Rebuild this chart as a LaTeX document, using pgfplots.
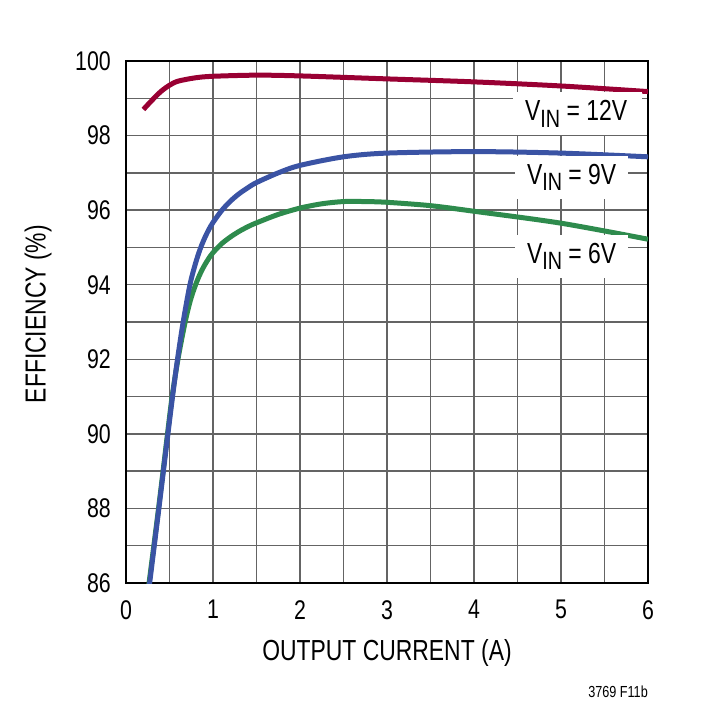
\documentclass[border=0pt]{standalone}
\usepackage{fontspec}
\setmainfont{Liberation Sans}[FakeStretch=0.79]
\usepackage{pgfplots}
\pgfplotsset{compat=1.18}
\definecolor{cRed}{RGB}{153,0,51}
\definecolor{cBlue}{RGB}{58,83,164}
\definecolor{cGreen}{RGB}{46,139,77}
\definecolor{cGrid}{RGB}{100,100,100}
\newcommand{\vin}[1]{V\raisebox{-6.5pt}{\fontsize{25pt}{25pt}\selectfont IN} = #1}
\begin{document}
\begin{tikzpicture}
\path[use as bounding box] (0pt,0pt) rectangle (725pt,710pt);
\begin{axis}[
  at={(126pt,127pt)}, anchor=south west,
  scale only axis, width=522pt, height=522pt,
  xmin=0, xmax=6, ymin=86, ymax=100,
  xtick={0,1,2,3,4,5,6}, ytick={86,88,90,92,94,96,98,100},
  minor x tick num=1, minor y tick num=1,
  grid=both,
  major grid style={cGrid, line width=1.5pt},
  minor grid style={cGrid, line width=1.5pt},
  major tick length=0pt, minor tick length=0pt,
  axis line style={black, line width=2.5pt},
  /pgf/number format/assume math mode=true,
  xticklabel style={font=\fontsize{27pt}{27pt}\selectfont, inner sep=0pt, anchor=north, yshift=-17pt},
  yticklabel style={font=\fontsize{27pt}{27pt}\selectfont, inner sep=0pt, anchor=east, xshift=-15pt},
  xlabel={OUTPUT CURRENT (A)},
  ylabel={EFFICIENCY (\%)},
  xlabel style={font=\fontsize{29pt}{29pt}\selectfont, at={(axis description cs:0.5,0)}, anchor=center, yshift=-70pt},
  ylabel style={font=\fontsize{29pt}{29pt}\selectfont, at={(axis description cs:0,0.515)}, anchor=center, xshift=0pt, yshift=88pt},
  clip=true,
]
\addplot[cRed, line width=5pt, smooth, tension=0.5] coordinates {
 (0.2,98.70) (0.3,98.95) (0.4,99.18) (0.5,99.35) (0.6,99.46) (0.8,99.55) (1.0,99.59)
 (1.5,99.62) (2.0,99.60) (3.0,99.52) (4.0,99.44) (5.0,99.33) (6.0,99.18)};
\addplot[cGreen, line width=5pt, smooth, tension=0.5] coordinates {
 (0.255,85.8) (0.265,86.0) (0.32,87) (0.374,88) (0.426,89) (0.477,90) (0.53,91) (0.597,92)
 (0.68,93) (0.74,93.58) (0.8,94.0) (0.85,94.28) (0.9,94.51) (0.95,94.70) (1.0,94.86)
 (1.1,95.10) (1.2,95.28) (1.3,95.43) (1.4,95.555) (1.5,95.66) (1.75,95.885) (2.0,96.055)
 (2.25,96.17) (2.5,96.23) (2.75,96.23) (3.0,96.21) (3.5,96.12) (4.0,95.97) (5.0,95.65) (6.0,95.22)};
\addplot[cBlue, line width=5pt, smooth, tension=0.5] coordinates {
 (0.262,85.8) (0.272,86.0) (0.325,87) (0.378,88) (0.43,89) (0.482,90) (0.535,91) (0.592,92)
 (0.657,93) (0.735,94) (0.8,94.58) (0.85,94.94) (0.9,95.23) (0.95,95.47) (1.0,95.67)
 (1.1,95.99) (1.2,96.24) (1.3,96.44) (1.4,96.6) (1.5,96.74) (1.75,97.0) (2.0,97.2)
 (2.5,97.43) (3.0,97.53) (4.0,97.57) (5.0,97.53) (6.0,97.43)};
\node[anchor=base west, fill=white, inner xsep=12pt, inner ysep=8pt, font=\fontsize{29pt}{29pt}\selectfont]
  at (axis cs:4.448,98.40) {\makebox[105pt][l]{\vin{12V}}};
\node[anchor=base west, fill=white, inner xsep=12pt, inner ysep=8pt, font=\fontsize{29pt}{29pt}\selectfont]
  at (axis cs:4.47,96.69) {\makebox[89pt][l]{\vin{9V}}};
\node[anchor=base west, fill=white, inner xsep=12pt, inner ysep=8pt, font=\fontsize{29pt}{29pt}\selectfont]
  at (axis cs:4.47,94.57) {\makebox[89pt][l]{\vin{6V}}};
\end{axis}
\node[anchor=south east, inner sep=0pt, font=\fontsize{16pt}{16pt}\selectfont] at (648pt,12.5pt) {3769 F11b};
\end{tikzpicture}
\end{document}
